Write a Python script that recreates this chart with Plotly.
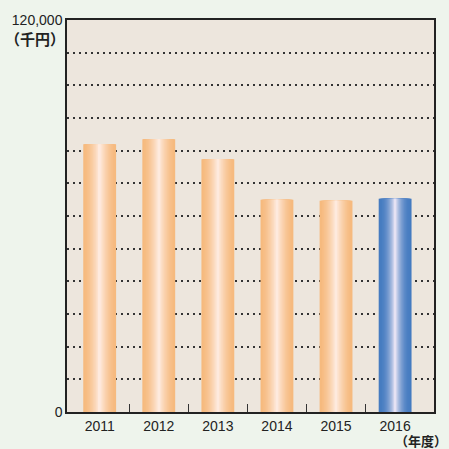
import plotly.graph_objects as go

# Annual amounts (thousand yen) by fiscal year
years = ["2011", "2012", "2013", "2014", "2015", "2016"]
amounts = [82000, 83500, 77400, 65000, 64700, 65300]

# Bar colour styles: edge colour and highlight colour for the cylinder shading
orange_edge, orange_mid = (246, 186, 126), (254, 234, 222)
blue_edge, blue_mid = (70, 124, 193), (230, 226, 243)

y_ticks = [0, 120000]
y_ticktext = ["0", "120,000"]

N_LAYERS = 22
BAR_WIDTH = 0.556


def mix(a, b, t):
    return "rgb({},{},{})".format(*[round(a[i] + (b[i] - a[i]) * t) for i in range(3)])


fig = go.Figure()
xs = list(range(len(years)))
for k in range(N_LAYERS):
    frac = k / (N_LAYERS - 1)
    w = BAR_WIDTH * (1 - k / N_LAYERS)
    colors = [
        mix(blue_edge, blue_mid, frac ** 2.2) if i == len(years) - 1
        else mix(orange_edge, orange_mid, frac ** 1.6)
        for i in range(len(years))
    ]
    fig.add_trace(go.Bar(
        x=xs, y=amounts, width=w,
        marker=dict(color=colors, line=dict(width=0)),
        hoverinfo="skip", showlegend=False,
    ))

fig.update_layout(
    width=449, height=449,
    margin=dict(l=66, r=15, t=16, b=37),
    barmode="overlay",
    paper_bgcolor="#eef4ec",
    plot_bgcolor="#ede6dd",
    font=dict(family="Liberation Sans, Arial, sans-serif", size=14, color="#222"),
    xaxis=dict(
        range=[-0.553, 5.658],
        tickvals=xs, ticktext=years, ticks="",
        showgrid=False, zeroline=False,
        showline=True, linecolor="#222", linewidth=1.5, mirror=True,
        minor=dict(tickvals=[0.5, 1.5, 2.5, 3.5, 4.5], ticks="inside",
                   ticklen=8, tickwidth=1, tickcolor="#333", showgrid=False),
        tickfont=dict(size=14),
    ),
    yaxis=dict(
        range=[0, 120000],
        tickvals=y_ticks, ticktext=y_ticktext, ticks="",
        showgrid=False, zeroline=False,
        showline=True, linecolor="#222", linewidth=1.5, mirror=True,
        minor=dict(dtick=10000, tick0=0, showgrid=True, gridcolor="#333",
                   gridwidth=1.5, griddash="2px,4px", ticks=""),
        tickfont=dict(size=14),
    ),
    annotations=[
        dict(text="<b>（千円）</b>", xref="paper", yref="paper", x=0.0, y=0.952,
             xanchor="right", yanchor="middle", showarrow=False,
             font=dict(family="Noto Sans CJK JP", size=15, color="#222")),
        dict(text="<b>（年度）</b>", xref="paper", yref="paper", x=1.041, y=-0.072,
             xanchor="right", yanchor="middle", showarrow=False,
             font=dict(family="Noto Sans CJK JP", size=13, color="#222")),
    ],
)

fig.write_html("out.html")
